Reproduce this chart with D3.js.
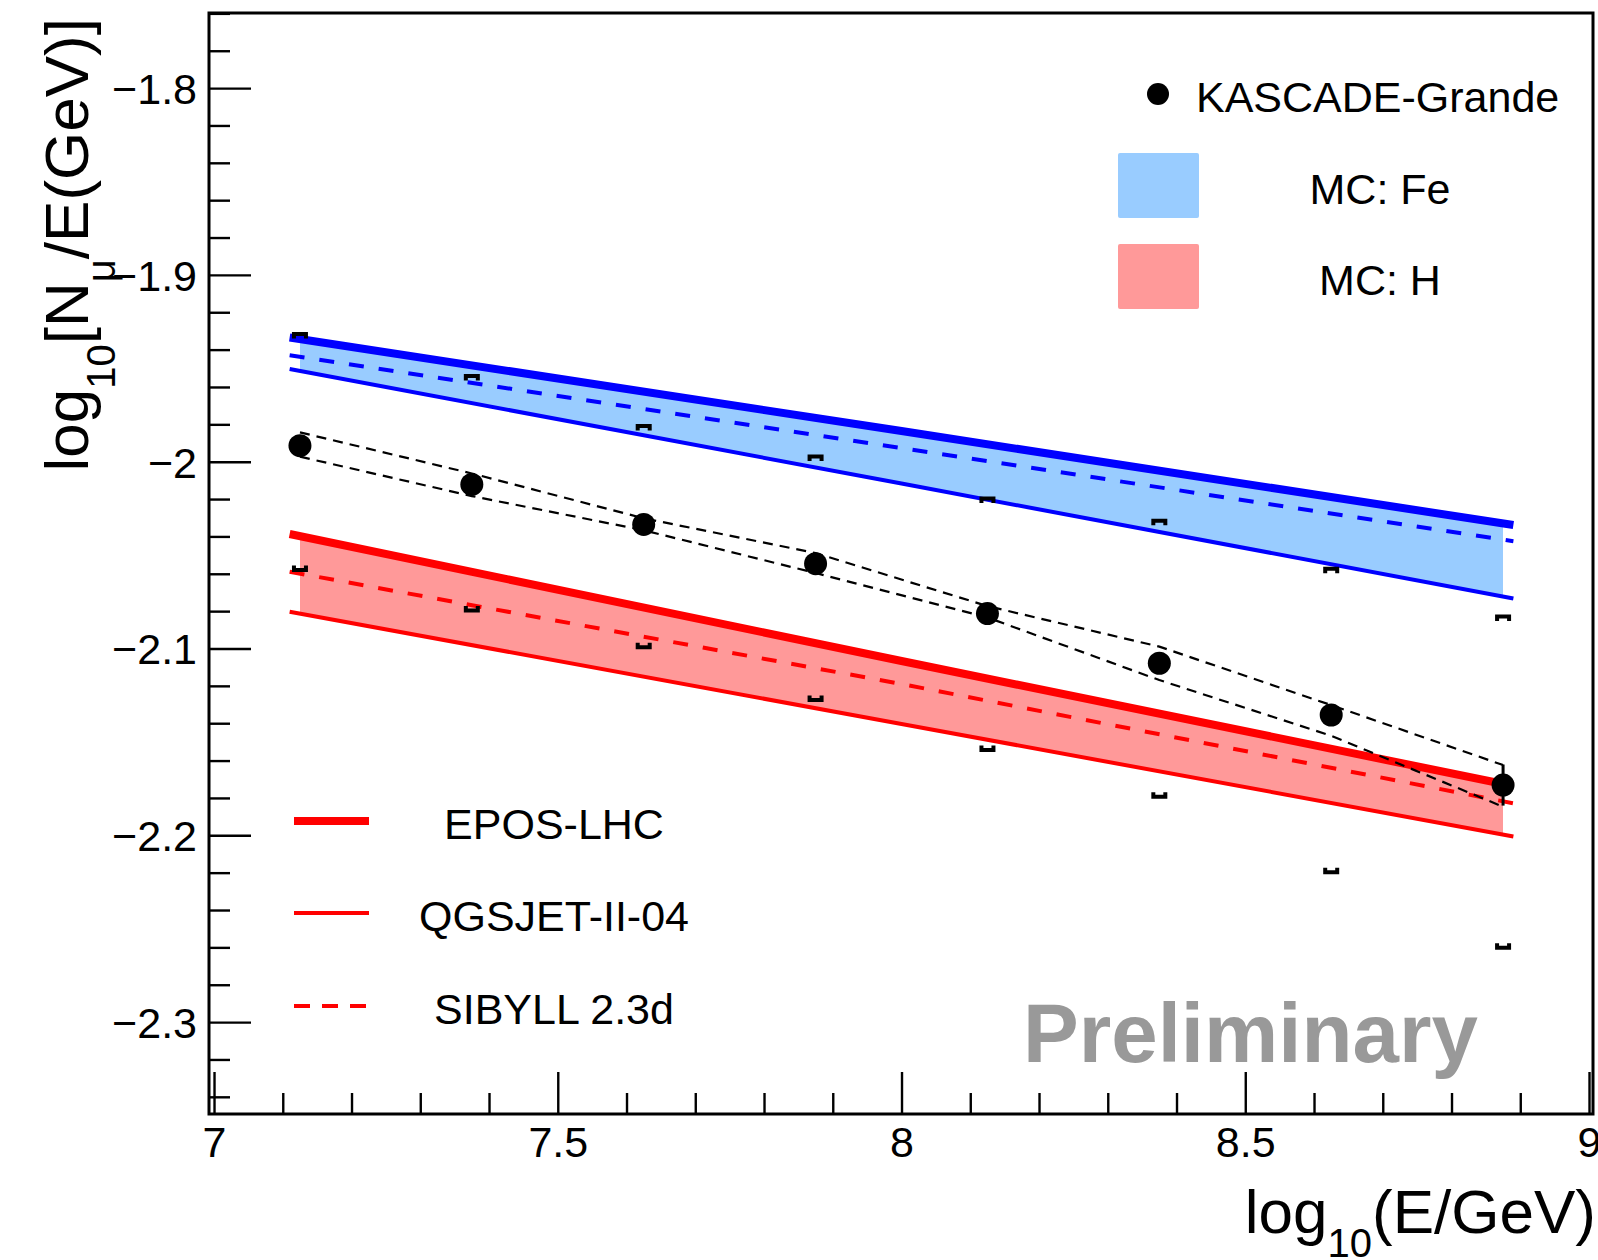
<!DOCTYPE html>
<html><head><meta charset="utf-8">
<script src="https://cdn.jsdelivr.net/npm/d3@7"></script>
<style>
body{margin:0;background:#fff}
text{font-family:"Liberation Sans",Arial,Helvetica,sans-serif}
</style>
</head><body>
<svg id="chart" width="1598" height="1260"></svg>
<script>
// ---------------- data ----------------
const energy   = [7.125, 7.375, 7.625, 7.875, 8.125, 8.375, 8.625, 8.875];
const kgValue  = [-1.9914, -2.0122, -2.0336, -2.0546, -2.0813, -2.1079, -2.1356, -2.1731];
const kgStatErr = [0.004, 0.004, 0.004, 0.004, 0.004, 0.004, 0.005, 0.011];
const kgUpper  = [-1.9843, -2.0063, -2.0303, -2.0489, -2.0773, -2.0990, -2.1303, -2.1624];
const kgLower  = [-1.9973, -2.0184, -2.0367, -2.0596, -2.0834, -2.1169, -2.1467, -2.1847];
const feBracket = [-1.9316, -1.9541, -1.9809, -1.9972, -2.0197, -2.0316, -2.0573, -2.0829];
const hBracket  = [-2.0580, -2.0796, -2.0993, -2.1276, -2.1543, -2.1794, -2.2198, -2.2602];

const mcX      = [7.11, 8.0, 8.89];
const feEPOS   = [-1.9335, -1.9836, -2.0339];
const feSIBYLL = [-1.9430, -1.9927, -2.0426];
const feQGSJET = [-1.9504, -2.0117, -2.0732];
const hEPOS    = [-2.0387, -2.1067, -2.1736];
const hSIBYLL  = [-2.0589, -2.1190, -2.1829];
const hQGSJET  = [-2.0803, -2.1404, -2.2006];
const bandRange = [7.125, 8.875];

const xMajorTicks = [7, 7.5, 8, 8.5, 9];
const xTickLabels = ["7", "7.5", "8", "8.5", "9"];
const yMajorTicks = [-1.8, -1.9, -2.0, -2.1, -2.2, -2.3];
const yTickLabels = ["\u22121.8", "\u22121.9", "\u22122", "\u22122.1", "\u22122.2", "\u22122.3"];
const xDomain = [6.9927, 9.0058];
const yDomain = [-2.3492, -1.7598];

const modelNames = ["EPOS-LHC", "QGSJET-II-04", "SIBYLL 2.3d"];
const compNames = ["MC: Fe", "MC: H"];
const dataName = "KASCADE-Grande";

// ---------------- layout ----------------
const L = 209, R = 1593, T = 13, B = 1114;
const svg = d3.select("#chart");
svg.append("rect").attr("width", 1598).attr("height", 1260).attr("fill", "#fff");

const x = d3.scaleLinear(xDomain, [L, R]);
const y = d3.scaleLinear(yDomain, [B, T]);

const BLUE = "#0000ff", RED = "#ff0000", BLUEFILL = "#99ccff", REDFILL = "#ff9999";

svg.append("clipPath").attr("id", "bandClip").append("rect")
  .attr("x", x(bandRange[0])).attr("y", 0)
  .attr("width", x(bandRange[1]) - x(bandRange[0])).attr("height", 1260);

const area = (top, bot) => d3.area()
  .x((d, i) => x(mcX[i])).y0((d, i) => y(bot[i])).y1((d, i) => y(top[i]))(mcX);
const line = d3.line().x(d => x(d[0])).y(d => y(d[1]));
const pts = arr => mcX.map((v, i) => [v, arr[i]]);

svg.append("path").attr("d", area(feEPOS, feQGSJET)).attr("fill", BLUEFILL).attr("clip-path", "url(#bandClip)");
svg.append("path").attr("d", area(hEPOS, hQGSJET)).attr("fill", REDFILL).attr("clip-path", "url(#bandClip)");

function mcLine(arr, color, w, dash) {
  const p = svg.append("path").attr("d", line(pts(arr))).attr("fill", "none")
    .attr("stroke", color).attr("stroke-width", w);
  if (dash) p.attr("stroke-dasharray", dash);
}
mcLine(feEPOS, BLUE, 8);
mcLine(feQGSJET, BLUE, 4);
mcLine(feSIBYLL, BLUE, 4, "15 15");
mcLine(hEPOS, RED, 8);
mcLine(hQGSJET, RED, 4);
mcLine(hSIBYLL, RED, 4, "15 15");

// bracket ends
const bw = 6, bh = 4.5;
svg.append("g").selectAll("path").data(energy).join("path")
  .attr("d", (e, i) => `M${x(e) - bw},${y(feBracket[i]) + bh}V${y(feBracket[i])}H${x(e) + bw}V${y(feBracket[i]) + bh}`)
  .attr("fill", "none").attr("stroke", "#000").attr("stroke-width", 4);
svg.append("g").selectAll("path").data(energy).join("path")
  .attr("d", (e, i) => `M${x(e) - bw},${y(hBracket[i]) - bh}V${y(hBracket[i])}H${x(e) + bw}V${y(hBracket[i]) - bh}`)
  .attr("fill", "none").attr("stroke", "#000").attr("stroke-width", 4);

// systematic band of data
const dline = d3.line().x((d, i) => x(energy[i])).y(d => y(d));
svg.append("path").attr("d", dline(kgUpper)).attr("fill", "none").attr("stroke", "#000")
  .attr("stroke-width", 2.2).attr("stroke-dasharray", "10 7");
svg.append("path").attr("d", dline(kgLower)).attr("fill", "none").attr("stroke", "#000")
  .attr("stroke-width", 2.2).attr("stroke-dasharray", "10 7");

// stat error bars
svg.append("g").selectAll("line").data(energy).join("line")
  .attr("x1", d => x(d)).attr("x2", d => x(d))
  .attr("y1", (d, i) => y(kgValue[i] - kgStatErr[i])).attr("y2", (d, i) => y(kgValue[i] + kgStatErr[i]))
  .attr("stroke", "#000").attr("stroke-width", 3);
// points
svg.append("g").selectAll("circle").data(energy).join("circle")
  .attr("cx", d => x(d)).attr("cy", (d, i) => y(kgValue[i])).attr("r", 11.5).attr("fill", "#000");

// ---------------- axes ----------------
const yMinor = d3.range(-2.34, -1.759, 0.02).filter(v => !yMajorTicks.some(m => Math.abs(m - v) < 1e-6));
const xMinor = d3.range(7.0, 9.001, 0.1).filter(v => !xMajorTicks.some(m => Math.abs(m - v) < 1e-6));

const gy = svg.append("g").attr("transform", `translate(${L},0)`)
  .call(d3.axisLeft(y).tickValues(yMajorTicks).tickSize(-42).tickPadding(12)
    .tickFormat((d, i) => yTickLabels[i]));
const gy2 = svg.append("g").attr("transform", `translate(${L},0)`)
  .call(d3.axisLeft(y).tickValues(yMinor).tickSize(-21).tickFormat(""));
const gx = svg.append("g").attr("transform", `translate(0,${B})`)
  .call(d3.axisBottom(x).tickValues(xMajorTicks).tickSize(-42).tickPadding(12)
    .tickFormat((d, i) => xTickLabels[i]));
const gx2 = svg.append("g").attr("transform", `translate(0,${B})`)
  .call(d3.axisBottom(x).tickValues(xMinor).tickSize(-21).tickFormat(""));
[gy, gy2, gx, gx2].forEach(g => {
  g.select(".domain").remove();
  g.selectAll(".tick line").attr("stroke", "#000").attr("stroke-width", 2.4);
  g.selectAll(".tick text").attr("font-size", 43).attr("fill", "#000")
    .attr("font-family", "'Liberation Sans',Arial,Helvetica,sans-serif");
});
gy.selectAll(".tick text").attr("dy", "0.36em");

svg.append("rect").attr("x", L).attr("y", T).attr("width", R - L).attr("height", B - T)
  .attr("fill", "none").attr("stroke", "#000").attr("stroke-width", 3);

// axis titles
const FS = 62, SFS = 40, SH = 24;
const xt = svg.append("text").attr("x", 1596).attr("y", 1233).attr("text-anchor", "end")
  .attr("font-size", FS).attr("fill", "#000");
xt.append("tspan").text("log");
xt.append("tspan").attr("dy", SH).attr("font-size", SFS).text("10");
xt.append("tspan").attr("dy", -SH).text("(E/GeV)");

const yt = svg.append("text").attr("transform", "translate(88,18) rotate(-90)").attr("text-anchor", "end")
  .attr("font-size", FS).attr("fill", "#000");
yt.append("tspan").text("log");
yt.append("tspan").attr("dy", 27).attr("font-size", SFS).text("10");
yt.append("tspan").attr("dy", -27).text("[N");
yt.append("tspan").attr("dy", 27).attr("font-size", SFS).text("\u03bc");
yt.append("tspan").attr("dy", -27).text("/E(GeV)]");

// ---------------- legends ----------------
svg.append("circle").attr("cx", 1158).attr("cy", 94).attr("r", 11).attr("fill", "#000");
svg.append("text").attr("x", 1196).attr("y", 112).attr("font-size", 43).text(dataName);
[[BLUEFILL, 153], [REDFILL, 244]].forEach(([c, yy], i) => {
  svg.append("rect").attr("x", 1118).attr("y", yy).attr("width", 81).attr("height", 65)
    .attr("rx", 2).attr("fill", c);
  svg.append("text").attr("x", 1380).attr("y", yy + 51).attr("text-anchor", "middle")
    .attr("font-size", 43).text(compNames[i]);
});
const legY = [821, 913, 1006];
const legW = [8, 4, 4];
const legDash = [null, null, "16 12"];
modelNames.forEach((n, i) => {
  const l = svg.append("line").attr("x1", 294).attr("x2", 369).attr("y1", legY[i]).attr("y2", legY[i])
    .attr("stroke", RED).attr("stroke-width", legW[i]);
  if (legDash[i]) l.attr("stroke-dasharray", legDash[i]);
  svg.append("text").attr("x", 554).attr("y", legY[i] + 18).attr("text-anchor", "middle")
    .attr("font-size", 43).text(n);
});

svg.append("text").attr("x", 1023).attr("y", 1062).attr("font-size", 83.5).attr("font-weight", "bold")
  .attr("fill", "#999999").text("Preliminary");
</script>
</body></html>
